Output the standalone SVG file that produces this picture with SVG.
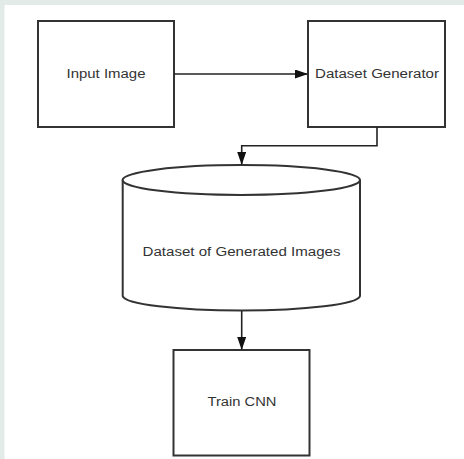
<svg xmlns="http://www.w3.org/2000/svg" width="464" height="459" viewBox="0 0 464 459">
<defs>
<marker id="ah" markerWidth="13" markerHeight="9" refX="12" refY="4.5" orient="auto" markerUnits="userSpaceOnUse">
<path d="M0,0 L13,4.5 L0,9 Z" fill="#111"/>
</marker>
<style>
.box{fill:#fff;stroke:#333;stroke-width:2}
.lbl{font-family:"Liberation Sans",Arial,sans-serif;font-size:12.5px;fill:#333;text-anchor:middle}
.con{fill:none;stroke:#222;stroke-width:1.6}
</style>
</defs>
<rect x="0" y="0" width="464" height="459" fill="#e2ebe8"/>
<rect x="4.5" y="5" width="460" height="454" fill="#fff"/>
<g id="input-image">
<rect class="box" x="38" y="21" width="136" height="106"/>
<text class="lbl" x="106" y="78" textLength="79" lengthAdjust="spacingAndGlyphs">Input Image</text>
</g>
<g id="dataset-generator">
<rect class="box" x="308" y="21" width="137" height="106"/>
<text class="lbl" x="377" y="78" textLength="124" lengthAdjust="spacingAndGlyphs">Dataset Generator</text>
</g>
<g id="dataset">
<path class="box" d="M122.7,180 L122.7,296 A118.7,15 0 0 0 360,296 L360,180" stroke-width="1.6"/>
<ellipse class="box" cx="241.3" cy="180" rx="118.7" ry="15" stroke-width="1.6"/>
<text class="lbl" x="241.5" y="256" textLength="198" lengthAdjust="spacingAndGlyphs">Dataset of Generated Images</text>
</g>
<g id="train-cnn">
<rect class="box" x="173.5" y="350" width="136" height="105.5" stroke-width="1.8"/>
<text class="lbl" x="242" y="406" textLength="69" lengthAdjust="spacingAndGlyphs">Train CNN</text>
</g>
<g id="connectors">
<path class="con" d="M174,74 L307,74" marker-end="url(#ah)"/>
<path class="con" d="M377,127 L377,145.7 L241.7,145.7 L241.7,164" marker-end="url(#ah)"/>
<path class="con" d="M241.7,311 L241.7,349" marker-end="url(#ah)"/>
</g>
</svg>
